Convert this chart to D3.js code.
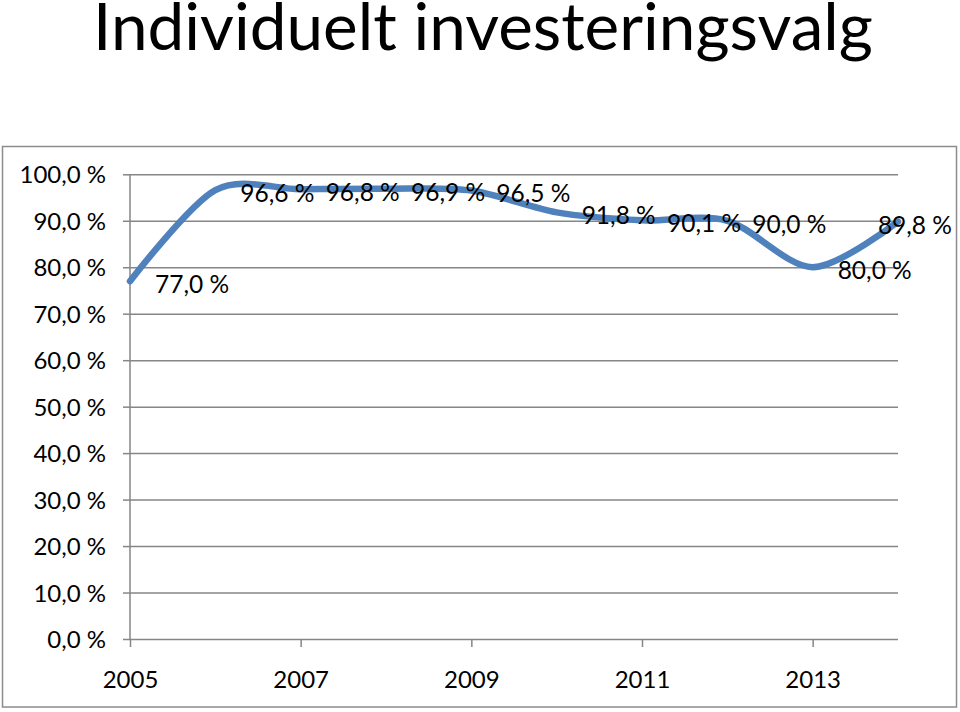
<!DOCTYPE html>
<html>
<head>
<meta charset="utf-8">
<script src="https://cdn.jsdelivr.net/npm/d3@7"></script>
<style>
	body { margin: 0; background: #fff; }
	text { font-family: Lato, "Open Sans", sans-serif; fill: #000; }
	.grid line { stroke: #868686; stroke-width: 1.5px; }
	.axis path, .axis line { stroke: #868686; stroke-width: 1.5px; }
</style>
</head>
<body>
<svg width="960" height="712"></svg>
<script>

	// values
	var years = [2005, 2006, 2007, 2008, 2009, 2010, 2011, 2012, 2013, 2014];
	var shares = [77.0, 96.6, 96.8, 96.9, 96.5, 91.8, 90.1, 90.0, 80.0, 89.8];
	var yearLabels = [2005, 2007, 2009, 2011, 2013];
	var yTicks = [0, 10, 20, 30, 40, 50, 60, 70, 80, 90, 100];
	var title = "Individuelt investeringsvalg";

	var svg = d3.select("svg");
	var plotLeft = 130, plotRight = 898, plotTop = 174.3, plotBottom = 639;

	var fmt = function(d) { return d.toFixed(1).replace(".", ",") + " %"; };

	var x = d3.scalePoint().domain(years).range([plotLeft, plotRight]);
	var y = d3.scaleLinear().domain([0, 100]).range([plotBottom, plotTop]);

	// chart border
	svg.append("rect")
		.attr("x", 2.5).attr("y", 146.5)
		.attr("width", 954).attr("height", 560.5)
		.attr("fill", "none")
		.attr("stroke", "#8c8c8c")
		.attr("stroke-width", 1.5);

	// title, fitted to the width it has in the picture
	var t = svg.append("text")
		.attr("x", 483).attr("y", 50)
		.attr("text-anchor", "middle")
		.style("font-size", "64px")
		.text(title);
	var w = t.node().getComputedTextLength();
	t.style("font-size", (64 * 780 / w) + "px");

	// gridlines
	svg.append("g")
		.attr("class", "grid")
		.attr("transform", "translate(" + plotLeft + ",0)")
		.call(d3.axisRight(y).tickValues(yTicks).tickSize(plotRight - plotLeft).tickFormat(""))
		.call(function(g) { g.select(".domain").remove(); });

	// y axis
	svg.append("g")
		.attr("class", "axis")
		.attr("transform", "translate(" + plotLeft + ",0)")
		.call(d3.axisLeft(y).tickValues(yTicks).tickSize(7).tickSizeOuter(0).tickPadding(17).tickFormat(fmt))
		.call(function(g) {
			g.select(".domain").attr("d", "M0," + plotTop + "V" + plotBottom);
			g.selectAll("text").style("font-size", "24px").attr("dy", "0.36em");
		});

	// x axis
	svg.append("g")
		.attr("class", "axis")
		.attr("transform", "translate(0," + plotBottom + ")")
		.call(d3.axisBottom(x).tickValues(yearLabels).tickSize(8).tickSizeOuter(0).tickPadding(24))
		.call(function(g) {
			g.select(".domain").remove();
			g.selectAll("text").style("font-size", "24px");
		});

	// the line (smoothed like the spreadsheet)
	var line = d3.line()
		.x(function(d, i) { return x(years[i]); })
		.y(function(d) { return y(d); })
		.curve(d3.curveCardinal.tension(0.1));

	svg.append("path")
		.datum(shares)
		.attr("d", line)
		.attr("fill", "none")
		.attr("stroke", "#4f81bd")
		.attr("stroke-width", 6.5)
		.attr("stroke-linecap", "round");

	// data labels, right of each point, kept inside the frame
	svg.append("g").selectAll("text")
		.data(shares)
		.enter().append("text")
		.style("font-size", "24.5px")
		.attr("x", function(d, i) { return x(years[i]) + 25; })
		.attr("y", function(d) { return y(d) + 3; })
		.attr("dy", "0.36em")
		.text(fmt)
		.each(function() {
			var el = d3.select(this);
			var bw = this.getComputedTextLength();
			var x0 = +el.attr("x");
			if (x0 + bw > 952) el.attr("x", 952 - bw);
		});

</script>
</body>
</html>
